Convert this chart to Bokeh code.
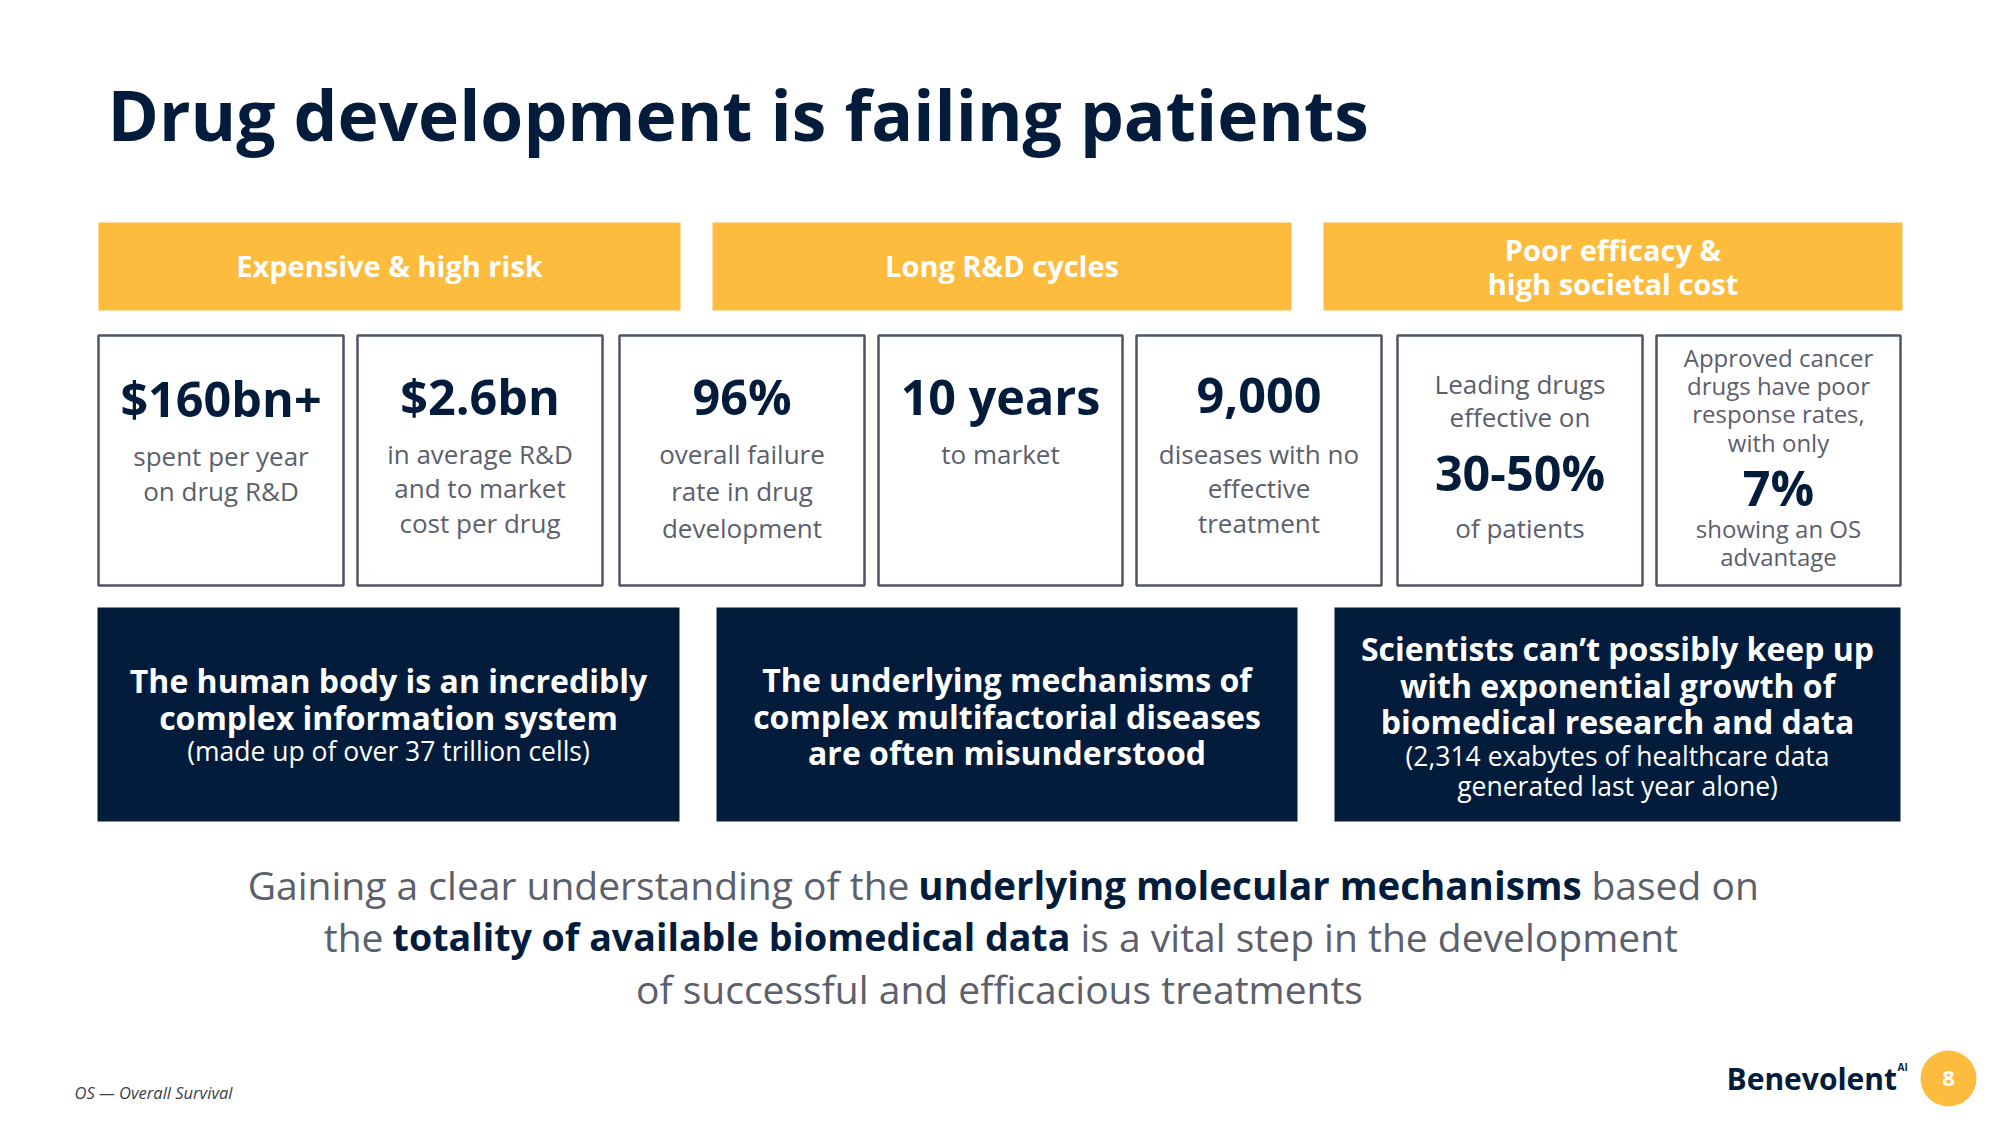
from bokeh.plotting import figure
from bokeh.models import Range1d
from bokeh.core.properties import value
from bokeh.embed import file_html
from bokeh.resources import INLINE

# ---------------- data ----------------
title = "Drug development is failing patients"
header_labels = [["Expensive & high risk"], ["Long R&D cycles"], ["Poor efficacy &", "high societal cost"]]
stat_values = ["$160bn+", "$2.6bn", "96%", "10 years", "9,000", "30-50%", "7%"]
stat_pre = [[], [], [], [], [], ["Leading drugs", "effective on"],
            ["Approved cancer", "drugs have poor", "response rates,", "with only"]]
stat_post = [["spent per year", "on drug R&D"],
             ["in average R&D", "and to market", "cost per drug"],
             ["overall failure", "rate in drug", "development"],
             ["to market"],
             ["diseases with no", "effective", "treatment"],
             ["of patients"],
             ["showing an OS", "advantage"]]
insight_heads = [["The human body is an incredibly", "complex information system"],
                 ["The underlying mechanisms of", "complex multifactorial diseases", "are often misunderstood"],
                 ["Scientists can\u2019t possibly keep up", "with exponential growth of", "biomedical research and data"]]
insight_notes = [["(made up of over 37 trillion cells)"], [],
                 ["(2,314 exabytes of healthcare data", "generated last year alone)"]]
summary_lines = [
    [("Gaining a clear understanding of the", False), ("underlying molecular mechanisms", True), ("based on", False)],
    [("the", False), ("totality of available biomedical data", True), ("is a vital step in the development", False)],
    [("of successful and efficacious treatments", False)],
]
footnote = "OS \u2014 Overall Survival"
brand = "Benevolent"
page_number = "8"

# ---------------- style ----------------
FONT = "Open Sans"
YELLOW = "#FDBC3E"
NAVY = "#031C3C"
GREY = "#5B606C"
BORDER = "#4E5664"

p = figure(width=1984, height=1109, x_range=Range1d(0, 1984), y_range=Range1d(1109, 0),
           output_backend="svg", toolbar_location=None, min_border=0,
           x_axis_location=None, y_axis_location=None)
p.grid.visible = False
p.outline_line_color = None
p.background_fill_color = "white"
p.border_fill_color = "white"


def txt(x, y, t, size, color, style="normal", align="center", baseline="middle"):
    p.text(x=[x], y=[y], text=[t], text_font=value(FONT), text_font_size=value(f"{size}px"),
           text_color=color, text_font_style=style, text_align=align, text_baseline=baseline)


# title
txt(107, 113, title, 69.5, NAVY, "bold", "left")

# headers
hdr_lr = [(98, 680), (712, 1291), (1323, 1902)]
p.quad(left=[a for a, b in hdr_lr], right=[b for a, b in hdr_lr], top=[222] * 3, bottom=[310] * 3,
       fill_color=YELLOW, line_color=None)
for (a, b), lines in zip(hdr_lr, header_labels):
    cx = (a + b) / 2
    if len(lines) == 1:
        txt(cx, 265, lines[0], 29, "white", "bold")
    else:
        txt(cx, 249, lines[0], 29, "white", "bold")
        txt(cx, 283, lines[1], 29, "white", "bold")

# stat boxes
box_lr = [(98, 343), (357, 602), (619, 864), (878, 1122), (1136, 1381), (1397, 1642), (1656, 1900)]
p.quad(left=[a for a, b in box_lr], right=[b for a, b in box_lr], top=[335] * 7, bottom=[585] * 7,
       fill_color="white", line_color=BORDER, line_width=2.5)
big_y = [397, 395, 395, 395, 395, 471, 486]
pre_y = [[], [], [], [], [], [383, 416], [357, 385, 413, 442]]
post_y = [[455, 490], [453, 487, 522], [453, 490, 527], [453], [453, 487, 522], [527], [528, 556]]
for i, (a, b) in enumerate(box_lr):
    cx = (a + b) / 2
    small = 24 if i == 6 else 26
    txt(cx, big_y[i], stat_values[i], 48.5, NAVY, "bold")
    for t, y in zip(stat_pre[i], pre_y[i]):
        txt(cx, y, t, small, GREY)
    for t, y in zip(stat_post[i], post_y[i]):
        txt(cx, y, t, small, GREY)

# insight boxes
ins_lr = [(97, 679), (716, 1297), (1334, 1900)]
p.quad(left=[a for a, b in ins_lr], right=[b for a, b in ins_lr], top=[607] * 3, bottom=[821] * 3,
       fill_color=NAVY, line_color=None)
head_y = [[680, 717], [679, 716, 752], [648, 685, 721]]
note_y = [[750], [], [755, 785]]
for i, (a, b) in enumerate(ins_lr):
    cx = (a + b) / 2
    for t, y in zip(insight_heads[i], head_y[i]):
        txt(cx, y, t, 32, "white", "bold")
    for t, y in zip(insight_notes[i], note_y[i]):
        txt(cx, y, t, 26.5, "white")

# summary text (mixed weights)
sum_y = [884, 936, 988]
NS = 39
# line 1
txt(909, sum_y[0], summary_lines[0][0][0], NS, GREY, "normal", "right")
txt(1249.5, sum_y[0], summary_lines[0][1][0], 38.5, NAVY, "bold", "center")
txt(1591, sum_y[0], summary_lines[0][2][0], NS, GREY, "normal", "left")
# line 2
txt(383, sum_y[1], summary_lines[1][0][0], NS, GREY, "normal", "right")
txt(731, sum_y[1], summary_lines[1][1][0], 37.6, NAVY, "bold", "center")
txt(1080, sum_y[1], summary_lines[1][2][0], NS, GREY, "normal", "left")
# line 3
txt(999, sum_y[2], summary_lines[2][0][0], NS, GREY, "normal", "center")

# footnote
txt(74, 1092, footnote, 16.5, "#3A3F4A", "italic", "left")

# brand
txt(1726, 1078, brand, 30, NAVY, "bold", "left")
txt(1897, 1066, "AI", 10, NAVY, "bold", "left")
p.scatter(x=[1948], y=[1078], size=56, marker="circle", fill_color=YELLOW, line_color=None)
txt(1948, 1078, page_number, 22, "white", "bold")

open("out.html", "w").write(file_html(p, INLINE))
